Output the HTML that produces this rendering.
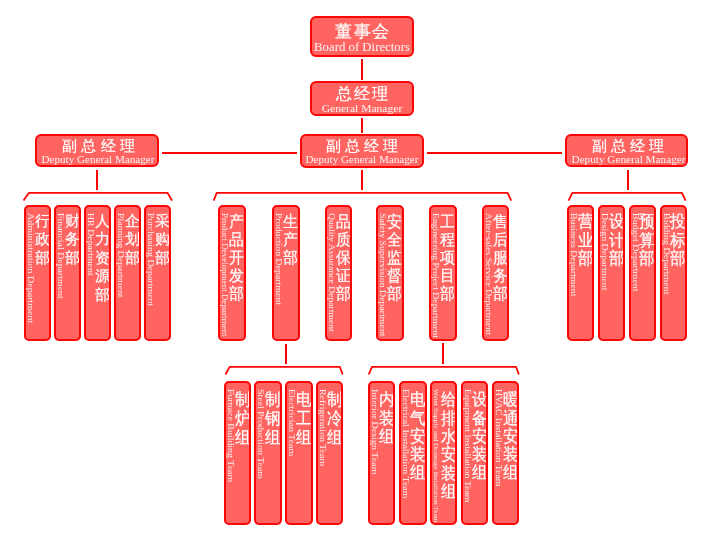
<!DOCTYPE html>
<html><head><meta charset="utf-8"><style>
html,body{margin:0;padding:0;background:#fff;width:726px;height:541px;overflow:hidden}
body{position:relative;font-family:"Liberation Sans",sans-serif}
#wrap{position:absolute;left:0;top:0;width:726px;height:541px;filter:blur(0.35px)}
.hb,.vb{position:absolute;box-sizing:border-box;border:2px solid #fc0505;background:#ff6461;border-radius:6px;color:#fff;overflow:hidden}
.vb{border-radius:5px}
.hcn{position:absolute;left:0;right:0;text-align:center;line-height:1;white-space:nowrap;font-weight:500;-webkit-text-stroke:0.2px #fff}
.hen{position:absolute;color:rgba(255,255,255,0.92);left:-20px;right:-20px;text-align:center;line-height:1;white-space:nowrap;font-family:"Liberation Serif",serif}
.vcn{position:absolute;transform-origin:0 0;right:-0.5px;width:15px;font-size:15px;line-height:18.2px;text-align:center;font-weight:500;-webkit-text-stroke:0.2px #fff}
.ven{position:absolute;color:rgba(255,255,255,0.88);margin-left:-1px;writing-mode:vertical-rl;font-family:"Liberation Serif",serif;line-height:10px;width:10px;white-space:nowrap;transform-origin:0 0}
.ln{position:absolute;background:#fc0505}
svg{position:absolute;left:0;top:0}
svg path{fill:none;stroke:#fc0505;stroke-width:1.8;stroke-linejoin:round}
</style></head><body>
<div id="wrap">
<div class="hb" style="left:310px;top:16px;width:104px;height:41px"><div class="hcn" style="left:0px;right:0px;top:5px;font-size:17px;letter-spacing:1.5px;text-indent:1.5px">董事会</div><div class="hen" style="left:-20px;right:-20px;top:23px;font-size:12.4px;transform:scaleX(1.032)">Board of Directors</div></div>
<div class="hb" style="left:310px;top:81px;width:104px;height:35px"><div class="hcn" style="left:0px;right:0px;top:3px;font-size:16px;letter-spacing:2px;text-indent:2px">总经理</div><div class="hen" style="left:-20px;right:-20px;top:19.5px;font-size:11px;transform:scaleX(1.050)">General Manager</div></div>
<div class="hb" style="left:35px;top:134px;width:124px;height:33px"><div class="hcn" style="left:1.5px;right:-1.5px;top:2.3px;font-size:15px;letter-spacing:4.2px;text-indent:4.2px">副总经理</div><div class="hen" style="left:-19.5px;right:-20.5px;top:19px;font-size:10.4px;transform:scaleX(1.069)">Deputy General Manager</div></div>
<div class="hb" style="left:300px;top:134px;width:124px;height:34px"><div class="hcn" style="left:0px;right:0px;top:2.3px;font-size:15px;letter-spacing:4.2px;text-indent:4.2px">副总经理</div><div class="hen" style="left:-20px;right:-20px;top:19px;font-size:10.4px;transform:scaleX(1.069)">Deputy General Manager</div></div>
<div class="hb" style="left:565px;top:134px;width:123px;height:33px"><div class="hcn" style="left:1.5px;right:-1.5px;top:2.3px;font-size:15px;letter-spacing:4.2px;text-indent:4.2px">副总经理</div><div class="hen" style="left:-18.5px;right:-21.5px;top:19px;font-size:10.4px;transform:scaleX(1.079)">Deputy General Manager</div></div>
<div class="ln" style="left:361px;top:59px;width:2px;height:21px"></div>
<div class="ln" style="left:361px;top:117.5px;width:2px;height:15.0px"></div>
<div class="ln" style="left:162px;top:152px;width:135px;height:2px"></div>
<div class="ln" style="left:427px;top:152px;width:135px;height:2px"></div>
<div class="ln" style="left:96px;top:169.5px;width:2px;height:20.5px"></div>
<div class="ln" style="left:361px;top:169.5px;width:2px;height:20.5px"></div>
<div class="ln" style="left:627px;top:169.5px;width:2px;height:20.5px"></div>
<div class="ln" style="left:285px;top:343.5px;width:2px;height:20.0px"></div>
<div class="ln" style="left:442px;top:342.5px;width:2px;height:21.0px"></div>
<div class="vb" style="left:24px;top:205px;width:27px;height:136px"><div class="ven" style="left:0.2px;top:5.6px;font-size:8.1px;transform:scaleY(1.236)">Administration Department</div><div class="vcn" style="top:4.6px;line-height:18.50px;transform:scaleY(1.0)">行<br>政<br>部</div></div>
<div class="vb" style="left:54px;top:205px;width:27px;height:136px"><div class="ven" style="left:0.2px;top:5.6px;font-size:8.1px;transform:scaleY(1.218)">Financial Department</div><div class="vcn" style="top:4.6px;line-height:18.50px;transform:scaleY(1.0)">财<br>务<br>部</div></div>
<div class="vb" style="left:84px;top:205px;width:27px;height:136px"><div class="ven" style="left:0.2px;top:5.6px;font-size:8.1px;transform:scaleY(1.217)">HR Department</div><div class="vcn" style="top:4.6px;line-height:18.50px;transform:scaleY(1.0)">人<br>力<br>资<br>源<br>部</div></div>
<div class="vb" style="left:114px;top:205px;width:27px;height:136px"><div class="ven" style="left:0.2px;top:5.6px;font-size:8.1px;transform:scaleY(1.226)">Planning Department</div><div class="vcn" style="top:4.6px;line-height:18.50px;transform:scaleY(1.0)">企<br>划<br>部</div></div>
<div class="vb" style="left:144px;top:205px;width:27px;height:136px"><div class="ven" style="left:0.2px;top:5.6px;font-size:8.1px;transform:scaleY(1.223)">Purchasing Department</div><div class="vcn" style="top:4.6px;line-height:18.50px;transform:scaleY(1.0)">采<br>购<br>部</div></div>
<div class="vb" style="left:218px;top:205px;width:27.5px;height:136px"><div class="ven" style="left:0.2px;top:5.6px;font-size:8.1px;transform:scaleY(1.112)">Product Development Department</div><div class="vcn" style="top:5.8px;line-height:16.71px;transform:scaleY(1.08)">产<br>品<br>开<br>发<br>部</div></div>
<div class="vb" style="left:272px;top:205px;width:27.5px;height:136px"><div class="ven" style="left:0.2px;top:5.6px;font-size:8.1px;transform:scaleY(1.213)">Production Department</div><div class="vcn" style="top:5.8px;line-height:16.71px;transform:scaleY(1.08)">生<br>产<br>部</div></div>
<div class="vb" style="left:324.5px;top:205px;width:27.5px;height:136px"><div class="ven" style="left:0.2px;top:5.6px;font-size:8.1px;transform:scaleY(1.190)">Quality Assurance Department</div><div class="vcn" style="top:5.8px;line-height:16.71px;transform:scaleY(1.08)">品<br>质<br>保<br>证<br>部</div></div>
<div class="vb" style="left:376px;top:205px;width:27.5px;height:136px"><div class="ven" style="left:0.2px;top:5.6px;font-size:8.1px;transform:scaleY(1.216)">Safety Supervision Department</div><div class="vcn" style="top:5.8px;line-height:16.71px;transform:scaleY(1.08)">安<br>全<br>监<br>督<br>部</div></div>
<div class="vb" style="left:429px;top:205px;width:27.5px;height:136px"><div class="ven" style="left:0.2px;top:5.6px;font-size:8.1px;transform:scaleY(1.193)">Engineering Project Department</div><div class="vcn" style="top:5.8px;line-height:16.71px;transform:scaleY(1.08)">工<br>程<br>项<br>目<br>部</div></div>
<div class="vb" style="left:481.5px;top:205px;width:27.5px;height:136px"><div class="ven" style="left:0.2px;top:5.6px;font-size:8.1px;transform:scaleY(1.196)">After-sales Service Department</div><div class="vcn" style="top:5.8px;line-height:16.71px;transform:scaleY(1.08)">售<br>后<br>服<br>务<br>部</div></div>
<div class="vb" style="left:567px;top:205px;width:27px;height:136px"><div class="ven" style="left:0.2px;top:5.6px;font-size:8.1px;transform:scaleY(1.209)">Business Department</div><div class="vcn" style="top:6.4px;line-height:16.55px;transform:scaleY(1.1)">营<br>业<br>部</div></div>
<div class="vb" style="left:598px;top:205px;width:27px;height:136px"><div class="ven" style="left:0.2px;top:5.6px;font-size:8.1px;transform:scaleY(1.227)">Design Department</div><div class="vcn" style="top:6.4px;line-height:16.55px;transform:scaleY(1.1)">设<br>计<br>部</div></div>
<div class="vb" style="left:628.5px;top:205px;width:27px;height:136px"><div class="ven" style="left:0.2px;top:5.6px;font-size:8.1px;transform:scaleY(1.233)">Budget Department</div><div class="vcn" style="top:6.4px;line-height:16.55px;transform:scaleY(1.1)">预<br>算<br>部</div></div>
<div class="vb" style="left:659.5px;top:205px;width:27px;height:136px"><div class="ven" style="left:0.2px;top:5.6px;font-size:8.1px;transform:scaleY(1.229)">Bidding Department</div><div class="vcn" style="top:6.4px;line-height:16.55px;transform:scaleY(1.1)">投<br>标<br>部</div></div>
<div class="vb" style="left:223.5px;top:381px;width:27.5px;height:143.5px"><div class="ven" style="left:0.2px;top:5.6px;font-size:8.1px;transform:scaleY(1.223)">Furnace Building Team</div><div class="vcn" style="top:7.5px;line-height:16.91px;transform:scaleY(1.1)">制<br>炉<br>组</div></div>
<div class="vb" style="left:254.3px;top:381px;width:27.5px;height:143.5px"><div class="ven" style="left:0.2px;top:5.6px;font-size:8.1px;transform:scaleY(1.226)">Steel Production Team</div><div class="vcn" style="top:7.5px;line-height:16.91px;transform:scaleY(1.1)">制<br>钢<br>组</div></div>
<div class="vb" style="left:285px;top:381px;width:27.5px;height:143.5px"><div class="ven" style="left:0.2px;top:5.6px;font-size:8.1px;transform:scaleY(1.225)">Electrician Team</div><div class="vcn" style="top:7.5px;line-height:16.91px;transform:scaleY(1.1)">电<br>工<br>组</div></div>
<div class="vb" style="left:315.7px;top:381px;width:27.5px;height:143.5px"><div class="ven" style="left:0.2px;top:5.6px;font-size:8.1px;transform:scaleY(1.227)">Refrigeration Team</div><div class="vcn" style="top:7.5px;line-height:16.91px;transform:scaleY(1.1)">制<br>冷<br>组</div></div>
<div class="vb" style="left:368.2px;top:381px;width:27.3px;height:143.5px"><div class="ven" style="left:0.2px;top:5.6px;font-size:8.1px;transform:scaleY(1.239)">Interior Design Team</div><div class="vcn" style="top:7.5px;line-height:16.50px;transform:scaleY(1.1)">内<br>装<br>组</div></div>
<div class="vb" style="left:399.3px;top:381px;width:27.3px;height:143.5px"><div class="ven" style="left:0.2px;top:5.6px;font-size:8.1px;transform:scaleY(1.227)">Electrical Installation Team</div><div class="vcn" style="top:7.5px;line-height:16.50px;transform:scaleY(1.1)">电<br>气<br>安<br>装<br>组</div></div>
<div class="vb" style="left:430px;top:381px;width:27.3px;height:143.5px"><div class="ven" style="left:0.2px;top:5.6px;font-size:6.8px;transform:scaleY(1.076)">Water Supply and Drainage Installation Team</div><div class="vcn" style="top:7.5px;line-height:16.64px;transform:scaleY(1.1)">给<br>排<br>水<br>安<br>装<br>组</div></div>
<div class="vb" style="left:460.9px;top:381px;width:27.3px;height:143.5px"><div class="ven" style="left:0.2px;top:5.6px;font-size:8.1px;transform:scaleY(1.210)">Equipment Installation Team</div><div class="vcn" style="top:7.5px;line-height:16.50px;transform:scaleY(1.1)">设<br>备<br>安<br>装<br>组</div></div>
<div class="vb" style="left:491.9px;top:381px;width:27.3px;height:143.5px"><div class="ven" style="left:0.2px;top:5.6px;font-size:8.1px;transform:scaleY(1.217)">HVAC Installation Team</div><div class="vcn" style="top:7.5px;line-height:16.50px;transform:scaleY(1.1)">暖<br>通<br>安<br>装<br>组</div></div>
<svg width="726" height="541" viewBox="0 0 726 541"><path d="M23.5 200.6 L29 192.8 L167.5 192.8 L172 200.6"/><path d="M213.7 200.6 L216.7 192.8 L507.6 192.8 L511.2 200.6"/><path d="M568.6 200.6 L572.3 192.8 L682 192.8 L685.6 200.6"/><path d="M225.5 374.5 L229.6 366.8 L339.8 366.8 L342.6 374.5"/><path d="M368.7 374.5 L372 366.8 L516 366.8 L518.9 374.5"/></svg>
</div>
</body></html>
